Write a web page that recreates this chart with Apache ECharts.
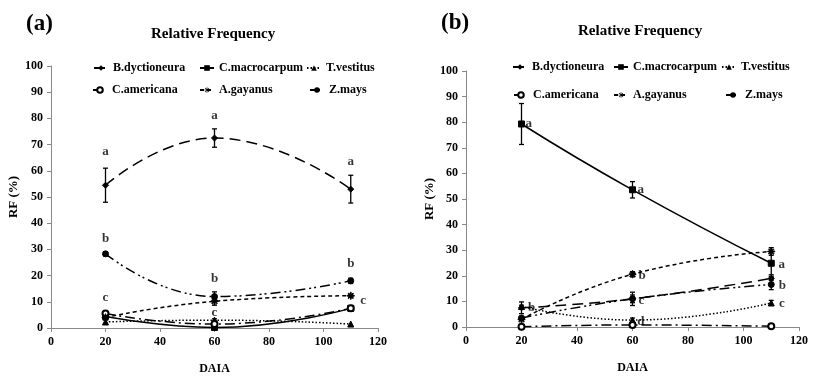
<!DOCTYPE html>
<html>
<head>
<meta charset="utf-8">
<script src="https://cdn.jsdelivr.net/npm/echarts@6/dist/echarts.min.js"></script>
<style>
html, body { margin: 0; padding: 0; background: #fff; }
#main { width: 819px; height: 382px; }
</style>
</head>
<body>
<div id="main"></div>
<script>
// days after inoculation (x)
var xDays = [20, 60, 110];
var names = ['B.dyctioneura', 'C.macrocarpum', 'T.vestitus', 'C.americana', 'A.gayanus', 'Z.mays'];

// panel (a)
var aBdy = [54.5, 72.5, 53.0];
var aCma = [4.5, 0.2, 7.5];
var aTve = [2.3, 3.0, 1.5];
var aCam = [5.5, 1.5, 7.5];
var aAga = [4.0, 10.2, 12.3];
var aZma = [28.3, 12.0, 18.0];
var aBdyErr = [6.5, 3.5, 5.3];
var aCmaErr = [1.2, 0, 0];
var aTveErr = [0.8, 0.5, 0];
var aCamErr = [0, 0, 0];
var aAgaErr = [0, 1.5, 0.5];
var aZmaErr = [0.8, 1.8, 1.0];
var aLetters = [[20, 67.4, 'a'], [60, 81, 'a'], [110, 63.6, 'a'], [20, 34, 'b'], [60, 19, 'b'], [110, 24.6, 'b'],
  [20, 11.5, 'c'], [60, 5.7, 'c'], [114.5, 10.3, 'c']];

// panel (b)
var bBdy = [7.5, 11.0, 19.0];
var bCma = [79.3, 53.6, 24.9];
var bTve = [8.0, 2.7, 9.4];
var bCam = [0.1, 0.8, 0.3];
var bAga = [3.0, 20.6, 29.5];
var bZma = [3.5, 11.0, 16.6];
var bBdyErr = [2.3, 2.6, 0.8];
var bCmaErr = [8.0, 3.2, 4.5];
var bTveErr = [0.5, 0.8, 1.0];
var bCamErr = [0, 0, 0];
var bAgaErr = [0.5, 1.0, 1.5];
var bZmaErr = [0.5, 1.5, 2.0];
var bLetters = [[22.6, 79.3, 'a'], [63, 53.5, 'a'], [113.8, 24.3, 'a'], [23.6, 7.5, 'b'], [63.5, 20.2, 'b'], [114, 16.3, 'b'],
  [63.2, 10.4, 'c'], [113.8, 9.1, 'c'], [63, 2, 'd']];

var serif = '"Liberation Serif", "DejaVu Serif", serif';
var asterisk = 'path://M4.4,0h1.2v10h-1.2z M0,4.4h10v1.2h-10z M1.2,2l0.8,-0.8l7,7l-0.8,0.8z M8.8,2l-0.8,-0.8l-7,7l0.8,0.8z';

// style per species: dash pattern, symbol
var styles = {
  'B.dyctioneura': { dash: [11, 6], symbol: 'diamond', size: 6 },
  'C.macrocarpum': { dash: 'solid', symbol: 'rect', size: 6 },
  'T.vestitus': { dash: [1.5, 2], symbol: 'triangle', size: 6 },
  'C.americana': { dash: [10, 4, 2, 4], symbol: 'emptyCircle', size: 6 },
  'A.gayanus': { dash: [4, 3], symbol: asterisk, size: 7 },
  'Z.mays': { dash: [10, 4, 2, 3, 2, 4], symbol: 'circle', size: 6 }
};

function pts(vals) {
  return xDays.map(function (x, i) { return [x, vals[i]]; });
}

function lineSeries(name, vals, gi) {
  var s = styles[name];
  return {
    type: 'line', name: name, xAxisIndex: gi, yAxisIndex: gi,
    data: pts(vals), smooth: true,
    symbol: s.symbol, symbolSize: s.size, showSymbol: true,
    lineStyle: { color: '#000', width: 1.5, type: s.dash },
    itemStyle: { color: '#000', borderColor: '#000' },
    z: 3
  };
}

function errData(valsList, errList) {
  var out = [];
  for (var k = 0; k < valsList.length; k++) {
    for (var i = 0; i < xDays.length; i++) {
      var e = errList[k][i];
      if (e > 0) out.push([xDays[i], valsList[k][i] - e, valsList[k][i] + e]);
    }
  }
  return out;
}

function errRender(params, api) {
  var x = api.value(0);
  var p1 = api.coord([x, api.value(2)]);
  var p2 = api.coord([x, api.value(1)]);
  var w = 2.5;
  var st = { stroke: '#000', lineWidth: 1.3 };
  return {
    type: 'group', children: [
      { type: 'line', shape: { x1: p1[0], y1: p1[1], x2: p2[0], y2: p2[1] }, style: st },
      { type: 'line', shape: { x1: p1[0] - w, y1: p1[1], x2: p1[0] + w, y2: p1[1] }, style: st },
      { type: 'line', shape: { x1: p2[0] - w, y1: p2[1], x2: p2[0] + w, y2: p2[1] }, style: st }
    ]
  };
}

function errSeries(data, gi) {
  return {
    type: 'custom', xAxisIndex: gi, yAxisIndex: gi, data: data,
    renderItem: errRender, encode: { x: 0, y: [1, 2] }, silent: true, z: 2
  };
}

function letterSeries(data, gi) {
  return {
    type: 'scatter', name: 'letters' + gi, xAxisIndex: gi, yAxisIndex: gi,
    data: data, symbolSize: 0, silent: true,
    label: {
      show: true, position: 'inside', color: '#000',
      fontFamily: serif, fontWeight: 'bold', fontSize: 13,
      formatter: function (p) { return p.data[2]; }
    },
    z: 5
  };
}

function xAx(gi) {
  return {
    type: 'value', gridIndex: gi, min: 0, max: 120, interval: 20,
    name: 'DAIA', nameLocation: 'middle', nameGap: 35,
    nameTextStyle: { fontFamily: serif, fontWeight: 'bold', fontSize: 12, color: '#000' },
    axisLine: { lineStyle: { color: '#888', width: 1 } },
    axisTick: { lineStyle: { color: '#888' }, length: 4 },
    axisLabel: { fontFamily: serif, fontWeight: 'bold', fontSize: 12, color: '#000', margin: 8 },
    splitLine: { show: false }
  };
}

function yAx(gi, gap) {
  return {
    type: 'value', gridIndex: gi, min: 0, max: 100, interval: 10,
    name: 'RF (%)', nameLocation: 'middle', nameGap: gap,
    nameTextStyle: { fontFamily: serif, fontWeight: 'bold', fontSize: 13, color: '#000' },
    axisLine: { show: true, lineStyle: { color: '#888', width: 1 } },
    axisTick: { show: true, lineStyle: { color: '#888' }, length: 4 },
    axisLabel: { fontFamily: serif, fontWeight: 'bold', fontSize: 12, color: '#000', margin: 8 },
    splitLine: { show: false }
  };
}

// legend item positions (icon left, row top)
var legendPos = [
  [[93, 62], [199, 62], [306, 62], [92, 84], [199, 84], [309, 84]],
  [[512, 61], [613, 61], [721, 61], [513, 89], [613, 89], [725, 89]]
];
var legends = [];
legendPos.forEach(function (row) {
  row.forEach(function (p, i) {
    legends.push({
      left: p[0], top: p[1], padding: 0, data: [names[i]], itemWidth: 14, itemHeight: 7, itemGap: 0,
      selectedMode: false,
      textStyle: { fontFamily: serif, fontWeight: 'bold', fontSize: 12, color: '#000' }
    });
  });
});

var aVals = [aBdy, aCma, aTve, aCam, aAga, aZma];
var aErrs = [aBdyErr, aCmaErr, aTveErr, aCamErr, aAgaErr, aZmaErr];
var bVals = [bBdy, bCma, bTve, bCam, bAga, bZma];
var bErrs = [bBdyErr, bCmaErr, bTveErr, bCamErr, bAgaErr, bZmaErr];

var series = [];
series.push(errSeries(errData(aVals, aErrs), 0));
series.push(errSeries(errData(bVals, bErrs), 1));
names.forEach(function (n, i) { series.push(lineSeries(n, aVals[i], 0)); });
names.forEach(function (n, i) { series.push(lineSeries(n, bVals[i], 1)); });
series.push(letterSeries(aLetters, 0));
series.push(letterSeries(bLetters, 1));

var option = {
  animation: false,
  backgroundColor: '#fff',
  title: [
    { text: '(a)', left: 21, top: 8, textStyle: { fontFamily: serif, fontWeight: 'bold', fontSize: 23, color: '#000' } },
    { text: '(b)', left: 436, top: 7, textStyle: { fontFamily: serif, fontWeight: 'bold', fontSize: 23, color: '#000' } },
    { text: 'Relative Frequency', left: 146, top: 22, textStyle: { fontFamily: serif, fontWeight: 'bold', fontSize: 15, color: '#000' } },
    { text: 'Relative Frequency', left: 573, top: 19, textStyle: { fontFamily: serif, fontWeight: 'bold', fontSize: 15, color: '#000' } }
  ],
  legend: legends,
  grid: [
    { left: 51, right: 441, top: 66, bottom: 54 },
    { left: 466, right: 20, top: 71, bottom: 55 }
  ],
  xAxis: [xAx(0), xAx(1)],
  yAxis: [yAx(0, 31), yAx(1, 30)],
  series: series
};

var chart = echarts.init(document.getElementById('main'));
chart.setOption(option);
</script>
</body>
</html>
